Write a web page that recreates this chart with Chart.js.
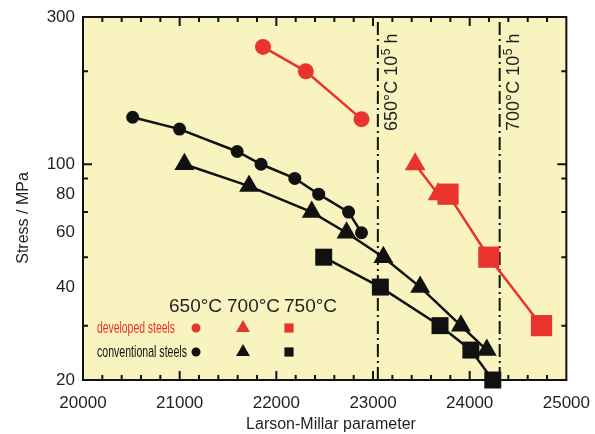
<!DOCTYPE html>
<html>
<head>
<meta charset="utf-8">
<script src="https://cdn.jsdelivr.net/npm/chart.js@4.4.1/dist/chart.umd.min.js"></script>
<style>
    body { margin: 0; background: #fff; }
    canvas { display: block; }
</style>
</head>
<body>
<canvas id="lmp" width="595" height="434"></canvas>
<script>
// creep rupture data, stress vs Larson-Millar parameter
const developed650X = [21862, 22305, 22881];
const developed650Y = [240, 200, 140];
const developed700X = [23436, 23673];
const developed700Y = [100, 80];
const developed750X = [23776, 24198, 24743];
const developed750Y = [80, 50, 30];

const conventional650X = [20514, 20998, 21595, 21842, 22191, 22438, 22747, 22881];
const conventional650Y = [142, 130, 110, 100, 90, 80, 70, 60];
const conventional700X = [21049, 21718, 22366, 22726, 23107, 23488, 23909, 24177];
const conventional700Y = [100, 85, 70, 60, 50, 40, 30, 25];
const conventional750X = [22490, 23076, 23693, 24012, 24239];
const conventional750Y = [50, 40, 30, 25, 20];

// 10^5 h limits
const limitX = [23050, 24310];
const limitLabels = ['650°C 10', '700°C 10'];

const xTicks = [20000, 21000, 22000, 23000, 24000, 25000];
const yTicks = [20, 40, 60, 80, 100, 300];
const yMinor = [30, 50, 70, 90, 200];
const tempLabels = ['650°C', '700°C', '750°C'];

const RED = '#e8342c';
const BLACK = '#111111';
const TEXT = '#231f20';
const FONT = '"Liberation Sans", Arial, sans-serif';

const pts = (xs, ys) => xs.map((x, i) => ({ x: x, y: ys[i] }));

function series(xs, ys, color, style, radius) {
    return {
        data: pts(xs, ys),
        borderColor: color,
        backgroundColor: color,
        borderWidth: 2.5,
        pointStyle: style,
        pointRadius: radius,
        pointBorderWidth: 0,
        pointBackgroundColor: color,
        showLine: true,
        clip: false,
        order: 1,
    };
}

const limitSets = limitX.map((x) => ({
    data: [{ x: x, y: 20 }, { x: x, y: 300 }],
    borderColor: BLACK,
    borderWidth: 2,
    borderDash: [13, 4, 2, 4],
    pointRadius: 0,
    showLine: true,
    order: 10,
}));

const plotFrame = {
    id: 'plotFrame',
    beforeDraw(chart) {
        const { ctx, chartArea: a } = chart;
        ctx.save();
        ctx.fillStyle = '#f9f4bf';
        ctx.fillRect(a.left, a.top, a.right - a.left, a.bottom - a.top);
        ctx.restore();
    },
    beforeDatasetsDraw(chart) {
        const { ctx, chartArea: a, scales } = chart;
        ctx.save();
        ctx.strokeStyle = BLACK;
        ctx.lineWidth = 2;
        ctx.beginPath();
        // inward ticks along top and bottom
        for (let v = 20200; v < 25000; v += 200) {
            const px = scales.x.getPixelForValue(v);
            const len = v % 1000 === 0 ? 9 : 5;
            ctx.moveTo(px, a.bottom); ctx.lineTo(px, a.bottom - len);
            ctx.moveTo(px, a.top); ctx.lineTo(px, a.top + len);
        }
        // inward ticks along left and right
        [100, ...yMinor].forEach((v) => {
            const py = scales.y.getPixelForValue(v);
            const len = v === 100 ? 9 : 5;
            ctx.moveTo(a.left, py); ctx.lineTo(a.left + len, py);
            ctx.moveTo(a.right, py); ctx.lineTo(a.right - len, py);
        });
        ctx.stroke();
        ctx.strokeRect(a.left, a.top, a.right - a.left, a.bottom - a.top);
        ctx.restore();
    },
    afterDraw(chart) {
        const { ctx, scales } = chart;
        ctx.save();
        ctx.fillStyle = TEXT;

        // axis titles
        ctx.font = `16px ${FONT}`;
        ctx.textAlign = 'center';
        ctx.textBaseline = 'alphabetic';
        ctx.fillText('Larson-Millar parameter', 331, 429);
        ctx.save();
        ctx.translate(28, 218);
        ctx.rotate(-Math.PI / 2);
        ctx.fillText('Stress / MPa', 0, 0);
        ctx.restore();

        // labels beside the limit lines
        limitX.forEach((x, i) => {
            const px = scales.x.getPixelForValue(x) + 14;
            ctx.save();
            ctx.translate(px, 131);
            ctx.rotate(-Math.PI / 2);
            ctx.textAlign = 'left';
            ctx.textBaseline = 'middle';
            ctx.font = `18px ${FONT}`;
            ctx.fillText(limitLabels[i], 0, 0);
            let w = ctx.measureText(limitLabels[i]).width;
            ctx.font = `12px ${FONT}`;
            ctx.fillText('5', w + 0.5, -5);
            w += ctx.measureText('5').width + 0.5;
            ctx.font = `18px ${FONT}`;
            ctx.fillText(' h', w, 0);
            ctx.restore();
        });

        // legend
        ctx.textAlign = 'left';
        ctx.textBaseline = 'alphabetic';
        ctx.font = `19px ${FONT}`;
        const headX = [169, 227, 284];
        tempLabels.forEach((t, i) => ctx.fillText(t, headX[i], 312));

        const rows = [
            { text: 'developed steels', color: RED, y: 328, width: 78 },
            { text: 'conventional steels', color: BLACK, y: 352, width: 90 },
        ];
        const styles = ['circle', 'triangle', 'rect'];
        const sizes = [4.5, 8, 6.5];
        const markX = [196, 243, 289];
        rows.forEach((row) => {
            ctx.save();
            ctx.fillStyle = row.color;
            ctx.font = `16px ${FONT}`;
            const sx = row.width / ctx.measureText(row.text).width;
            ctx.translate(97, row.y + 5);
            ctx.scale(sx, 1);
            ctx.fillText(row.text, 0, 0);
            ctx.restore();
            ctx.fillStyle = row.color;
            styles.forEach((s, i) => {
                Chart.helpers.drawPoint(ctx, { pointStyle: s, radius: sizes[i], rotation: 0, borderWidth: 0 }, markX[i], row.y);
            });
        });
        ctx.restore();
    },
};

new Chart(document.getElementById('lmp'), {
    type: 'scatter',
    data: {
        datasets: [
            series(developed650X, developed650Y, RED, 'circle', 8),
            series(developed700X, developed700Y, RED, 'triangle', 12),
            series(developed750X, developed750Y, RED, 'rect', 15),
            series(conventional650X, conventional650Y, BLACK, 'circle', 6.5),
            series(conventional700X, conventional700Y, BLACK, 'triangle', 11.5),
            series(conventional750X, conventional750Y, BLACK, 'rect', 12),
            ...limitSets,
        ],
    },
    options: {
        responsive: false,
        animation: false,
        events: [],
        layout: { autoPadding: false, padding: { left: 0, top: 17, right: 26, bottom: 0 } },
        scales: {
            x: {
                type: 'linear',
                min: 20000,
                max: 25000,
                grid: { display: false },
                border: { display: false },
                afterFit: (scale) => { scale.height = 54; },
                afterBuildTicks: (scale) => { scale.ticks = xTicks.map((v) => ({ value: v })); },
                ticks: {
                    padding: 5,
                    maxRotation: 0,
                    color: TEXT,
                    font: { family: FONT, size: 17 },
                    callback: (v) => String(v),
                },
            },
            y: {
                type: 'logarithmic',
                min: 20,
                max: 300,
                grid: { display: false },
                border: { display: false },
                afterFit: (scale) => { scale.width = 83; },
                afterBuildTicks: (scale) => { scale.ticks = yTicks.map((v) => ({ value: v })); },
                ticks: {
                    padding: 0,
                    color: TEXT,
                    font: { family: FONT, size: 17 },
                    callback: (v) => String(v),
                },
            },
        },
        plugins: {
            legend: { display: false },
            tooltip: { enabled: false },
        },
    },
    plugins: [plotFrame],
});
</script>
</body>
</html>
